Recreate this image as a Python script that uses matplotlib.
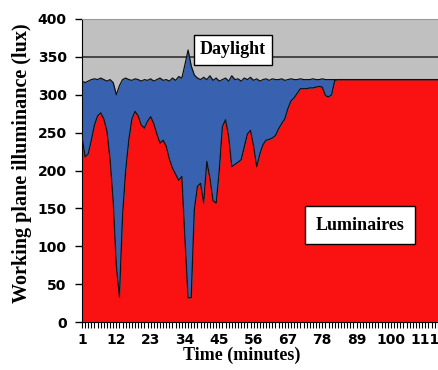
import matplotlib
matplotlib.use("Agg")
import matplotlib.pyplot as plt
import numpy as np

minutes = list(range(1, 116))
luminaires = [245, 218, 222, 240, 260, 272, 276, 268, 252, 215,
              160, 75, 33, 140, 200, 240, 268, 278, 272, 260,
              256, 265, 271, 262, 248, 236, 240, 232, 215, 203,
              195, 187, 192, 110, 32, 32, 148, 179, 183, 157,
              212, 190, 160, 157, 200, 258, 267, 245, 205, 208,
              211, 214, 231, 248, 253, 232, 205, 222, 234, 240,
              241, 243, 246, 255, 262, 268, 282, 292, 296, 302,
              308, 308, 308, 309, 309, 310, 311, 310, 299, 297,
              300, 319, 320, 320, 320, 320, 320, 320, 320, 320,
              320, 320, 320, 320, 320, 320, 320, 320, 320, 320,
              320, 320, 320, 320, 320, 320, 320, 320, 320, 320,
              320, 320, 320, 320, 320]
total = [318, 316, 318, 320, 321, 320, 322, 320, 318, 320,
         316, 300, 312, 320, 322, 320, 319, 321, 320, 318,
         320, 319, 321, 318, 320, 322, 319, 320, 318, 322,
         319, 324, 322, 340, 359, 338, 326, 322, 320, 323,
         320, 325, 319, 322, 318, 320, 322, 318, 325, 320,
         321, 318, 322, 320, 323, 319, 321, 318, 320, 321,
         319, 321, 320, 320, 321, 319, 320, 321, 320, 320,
         321, 320, 320, 320, 321, 320, 320, 321, 320, 320,
         320, 320, 320, 320, 320, 320, 320, 320, 320, 320,
         320, 320, 320, 320, 320, 320, 320, 320, 320, 320,
         320, 320, 320, 320, 320, 320, 320, 320, 320, 320,
         320, 320, 320, 320, 320]
xtick_labels = [1, 12, 23, 34, 45, 56, 67, 78, 89, 100, 111]
yticks = [0, 50, 100, 150, 200, 250, 300, 350, 400]

fig = plt.figure(figsize=(4.39, 3.70), dpi=100)
ax = fig.add_axes([82/439, 48/370, 1 - 82/439, 303/370])
ax.set_facecolor('#C0C0C0')

x = np.array(minutes)
lum = np.array(luminaires)
tot = np.array(total)

ax.axhline(350, color='#303030', lw=1.2, zorder=1)
ax.fill_between(x, 0, lum, color='#FA1212', lw=0, zorder=2)
ax.fill_between(x, lum, tot, color='#3862B0', lw=0, zorder=2)
ax.plot(x, lum, color='#101010', lw=0.9, zorder=3)
ax.plot(x, tot, color='#101010', lw=0.9, zorder=3)

ax.set_xlim(1, 115.4)
ax.set_ylim(0, 400)
ax.set_yticks(yticks)
ax.set_xticks(xtick_labels)
ax.set_xticks(minutes, minor=True)
ax.tick_params(axis='y', direction='out', length=5, width=1, pad=6)
ax.tick_params(axis='x', which='major', direction='out', length=4, width=0.8, pad=4)
ax.tick_params(axis='x', which='minor', direction='out', length=4, width=0.8)
for lab in ax.get_xticklabels() + ax.get_yticklabels():
    lab.set_fontfamily('DejaVu Sans')
    lab.set_fontweight('bold')
    lab.set_fontsize(10)

ax.spines['right'].set_visible(False)
ax.spines['top'].set_color('#999999')
ax.spines['left'].set_color('black')
ax.spines['bottom'].set_color('black')

ax.set_ylabel('Working plane illuminance (lux)', family='Liberation Serif',
              fontweight='bold', fontsize=14.5)
ax.yaxis.set_label_coords((32 - 82) / 357, 0.525)
ax.set_xlabel('Time (minutes)', family='Liberation Serif', fontweight='bold', fontsize=13)
ax.xaxis.set_label_coords((242 - 82) / 357, -0.082)

ax.text(233/439, 1 - 50/370, 'Daylight', transform=fig.transFigure, ha='center', va='center',
        family='Liberation Serif', fontweight='bold', fontsize=13,
        bbox=dict(boxstyle='square,pad=0.35', fc='white', ec='black', lw=1), zorder=5)
ax.text(360/439, 1 - 225/370, 'Luminaires', transform=fig.transFigure, ha='center', va='center',
        family='Liberation Serif', fontweight='bold', fontsize=13,
        bbox=dict(boxstyle='square,pad=0.6', fc='white', ec='black', lw=1), zorder=5)

fig.savefig('out.png', dpi=100)
